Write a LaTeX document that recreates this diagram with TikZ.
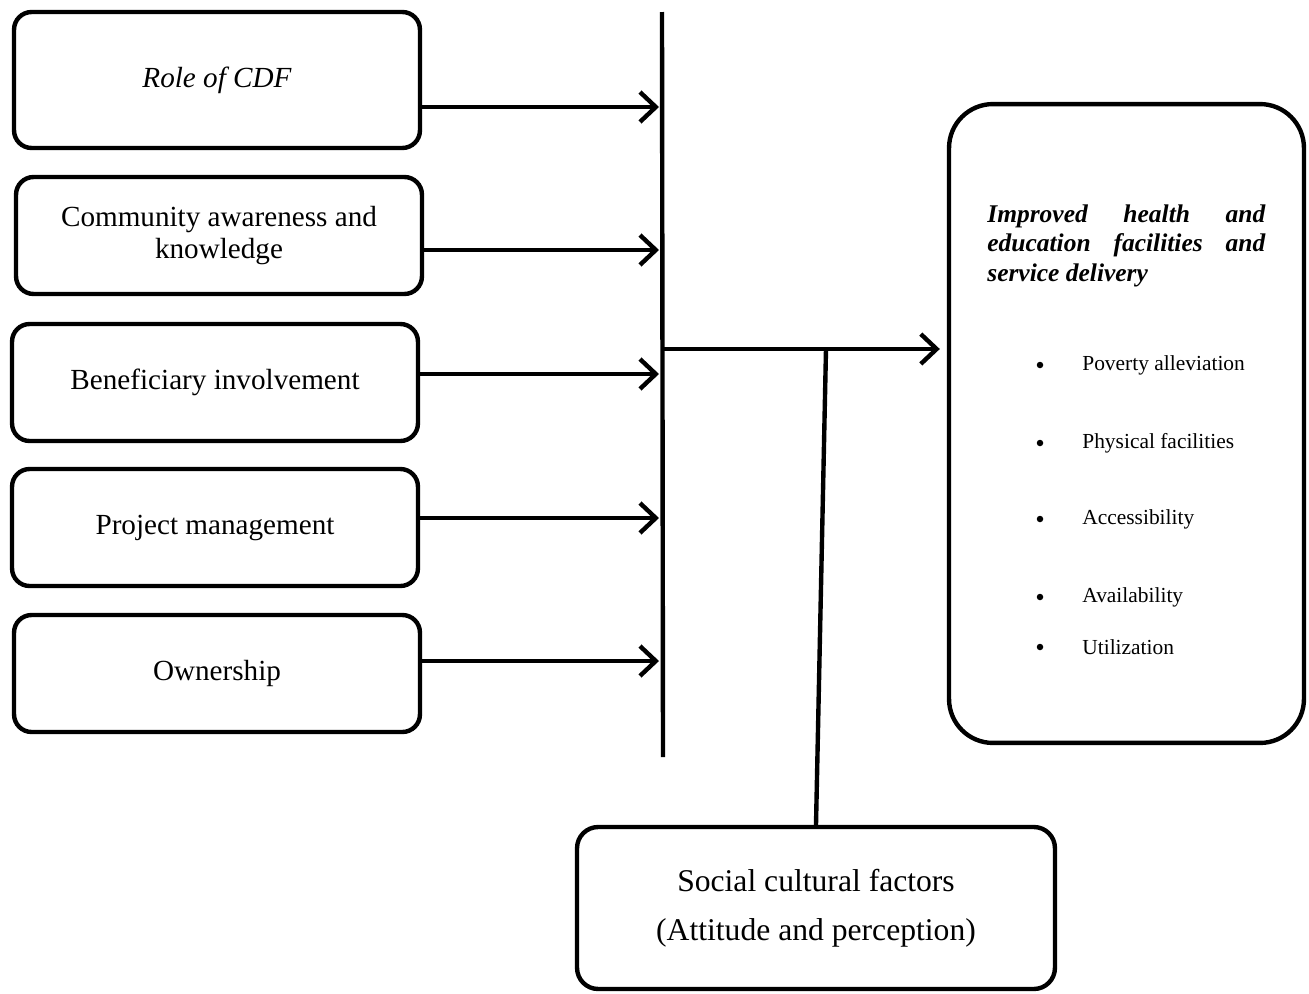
\documentclass[tikz,border=0pt]{standalone}
\usepackage{fontspec}
\setmainfont{Liberation Serif}
\usetikzlibrary{arrows.meta}

\tikzset{
  link/.style={line width=2.5pt},
  arr/.style={link, -{Straight Barb[length=9pt,width=17pt]}},
  factor/.style={draw, link, rounded corners=10pt, minimum width=8.12cm,
    minimum height=2.34cm, align=center, inner sep=0pt,
    font=\fontsize{16.6}{18.5}\selectfont},
  itemdot/.style={circle, fill, inner sep=0pt, minimum size=0.13cm},
  itemtext/.style={anchor=west, inner sep=0pt, font=\fontsize{12.2}{14}\selectfont},
}

\begin{document}
\begin{tikzpicture}[x=0.02cm, y=-0.02cm]

\useasboundingbox (0,0) rectangle (1309,994);

\def\xbar{662}; % vertical bar
\def\xtip{659}; % arrow tips at the bar
\def\xdot{1040}; % bullets
\def\xitem{1082}; % bullet texts

% factor boxes
\node[factor, minimum height=2.72cm, font=\fontsize{16.6}{18.5}\selectfont\itshape] (role) at (217,80) {Role of CDF};
\node[factor] (aware) at (219,235.5) {Community awareness and\\knowledge};
\node[factor] (benef) at (215,382.5) {Beneficiary involvement};
\node[factor] (manage) at (215,527.5) {Project management};
\node[factor] (owner) at (217,673.5) {Ownership};

% outcome box
\node[draw, link, rounded corners=25pt, minimum width=7.1cm, minimum height=12.78cm] (outc) at (1126.5,423.5) {};
\node[anchor=north west, text width=5.56cm, align=justify, inner sep=0pt,
  font=\fontsize{14.5}{17}\selectfont\bfseries\itshape]
  (outtitle) at (987,204) {Improved health and\linebreak education facilities and\linebreak service delivery};

\node[itemdot] (dot1) at (\xdot,365) {};
\node[itemtext] (item1) at (\xitem,365) {Poverty alleviation};
\node[itemdot] (dot2) at (\xdot,443) {};
\node[itemtext] (item2) at (\xitem,443) {Physical facilities};
\node[itemdot] (dot3) at (\xdot,519) {};
\node[itemtext] (item3) at (\xitem,519) {Accessibility};
\node[itemdot] (dot4) at (\xdot,597) {};
\node[itemtext] (item4) at (\xitem,597) {Availability};
\node[itemdot] (dot5) at (\xdot,647) {};
\node[itemtext] (item5) at (\xitem,647) {Utilization};

% moderating box
\node[factor, minimum width=9.56cm, minimum height=3.24cm, rounded corners=12pt,
  font=\fontsize{18}{28}\selectfont] (social) at (816,908) {Social cultural factors\\(Attitude and perception)};

% vertical bar
\coordinate (bartop) at (\xbar,12);
\coordinate (barbot) at (\xbar+1,757);
\draw[link] (bartop) -- (barbot);

\coordinate (t1) at (\xtip,107);
\coordinate (t2) at (\xtip,250);
\coordinate (t3) at (\xtip,374);
\coordinate (t4) at (\xtip,518);
\coordinate (t5) at (\xtip,661);

\draw[arr] (role.east |- t1) -- (t1);
\draw[arr] (aware.east |- t2) -- (t2);
\draw[arr] (benef.east |- t3) -- (t3);
\draw[arr] (manage.east |- t4) -- (t4);
\draw[arr] (owner.east |- t5) -- (t5);

% to the outcome
\coordinate (hub) at (\xbar+1,349);
\coordinate (join) at (826,349);
\draw[arr, shorten >=4pt] (hub) -- (hub -| outc.west);
\draw[link] (social.north) -- (join);

\end{tikzpicture}
\end{document}
